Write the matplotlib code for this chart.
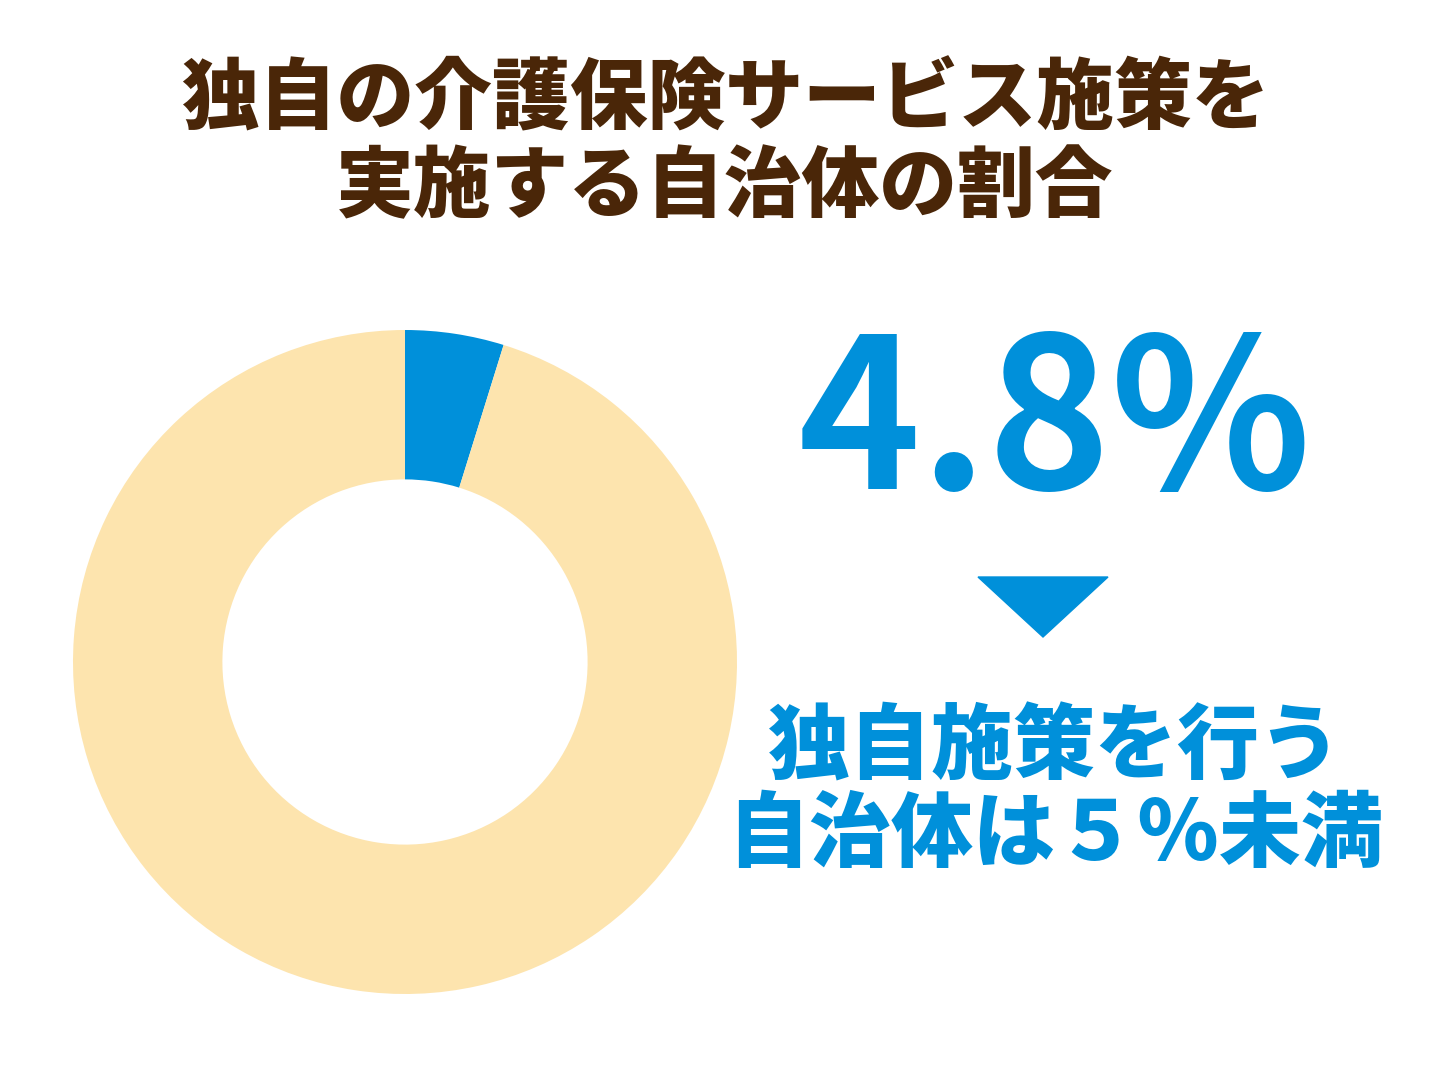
import matplotlib
matplotlib.use("Agg")
import matplotlib.pyplot as plt
from matplotlib.patches import Polygon

plt.rcParams['font.family'] = ['Noto Sans CJK JP', 'DejaVu Sans']

labels = ["独自施策を実施", "その他"]
values = [4.8, 95.2]
colors = ["#0090DA", "#FDE4AE"]
title_lines = ["独自の介護保険サービス施策を", "実施する自治体の割合"]
big_value = "4.8%"
sub_lines = ["独自施策を行う", "自治体は５％未満"]

W, H = 1452, 1089
fig = plt.figure(figsize=(W/100, H/100), dpi=100)
fig.patch.set_facecolor("white")

cx, cy, r = 405, 662, 332
ax = fig.add_axes([(cx-r)/W, (H-cy-r)/H, 2*r/W, 2*r/H])
ax.pie(values, colors=colors, startangle=90, counterclock=False,
       radius=1.0, wedgeprops=dict(width=0.45, edgecolor="none"))
ax.set_aspect("equal")
ax.set_xlim(-1, 1); ax.set_ylim(-1, 1)
ax.axis("off")

brown = "#4A2608"
for i, t in enumerate(title_lines):
    fig.text(725/W, 1-(100+88*i)/H, t, ha="center", va="center",
             fontsize=56, fontweight="black", color=brown)

fig.text(1055/W, 1-428/H, big_value, ha="center", va="center",
         fontsize=150, fontweight="bold", color="#0090DA")

tri = Polygon([[978/W, 1-577/H], [1108/W, 1-577/H], [1043/W, 1-637/H]],
              closed=True, transform=fig.transFigure, color="#0090DA")
fig.patches.append(tri)

for i, t in enumerate(sub_lines):
    fig.text(1055/W, 1-(748+88*i)/H, t, ha="center", va="center",
             fontsize=59, fontweight="black", color="#0090DA")

fig.savefig("out.png", dpi=100, facecolor="white")
